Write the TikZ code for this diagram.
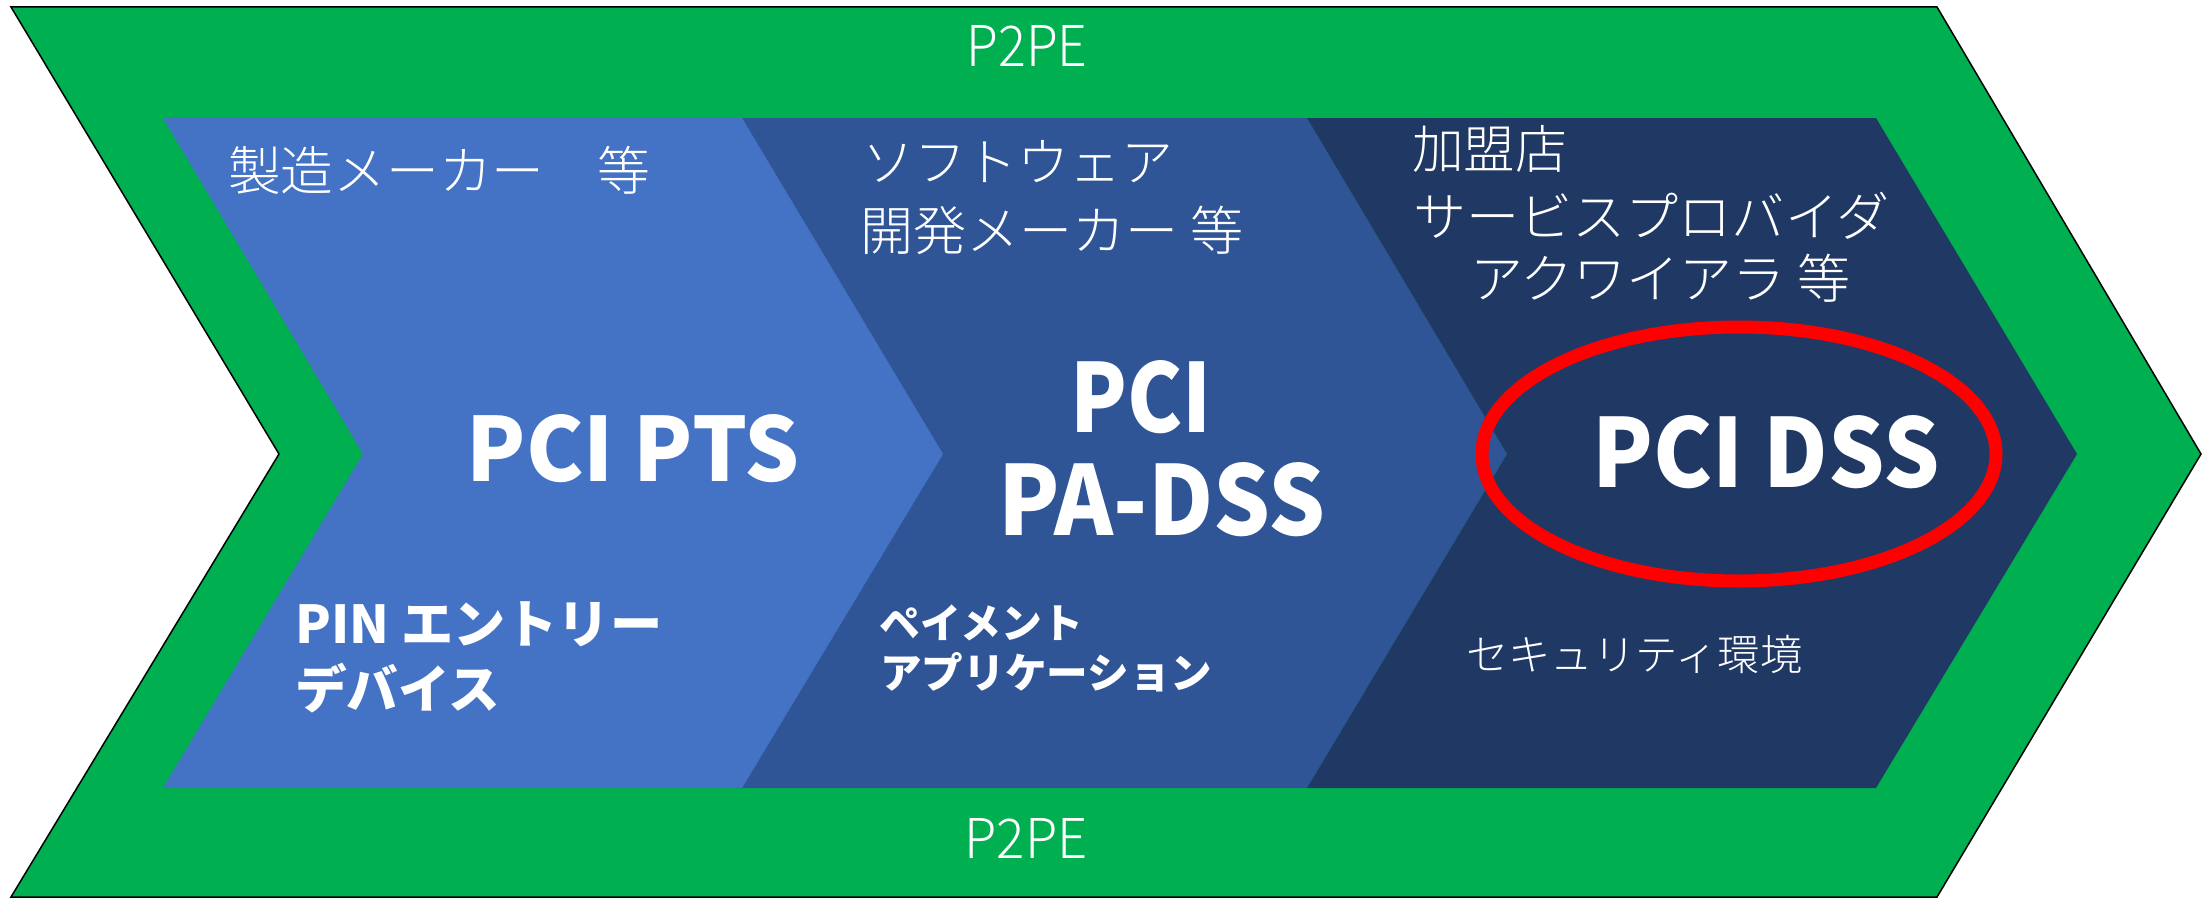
\documentclass[tikz,border=0pt]{standalone}
\usepackage{fontspec}
\setmainfont{Noto Sans CJK JP}
\IfFontExistsTF{Noto Sans CJK JP Light}
  {\newfontfamily\lightjp{Noto Sans CJK JP Light}}
  {\newfontfamily\lightjp{Noto Sans CJK JP}}
\usepackage{graphicx}
\definecolor{pgreen}{HTML}{00B050}
\definecolor{blueA}{HTML}{4472C4}
\definecolor{blueB}{HTML}{2F5597}
\definecolor{blueC}{HTML}{203864}
\definecolor{pred}{HTML}{FF0000}
\begin{document}
\begin{tikzpicture}[x=1pt,y=-1pt,
  txt/.style={text=white,inner sep=0pt,anchor=west},
  ctxt/.style={text=white,inner sep=0pt,anchor=center}]
\useasboundingbox (0,0) rectangle (2204,899);
% outer green chevron
\filldraw[fill=pgreen,draw=black,line width=1.5pt]
  (11,7) -- (1937,7) -- (2201,454) -- (1937,897) -- (11,897) -- (279,454) -- cycle;
% blue stages
\fill[blueB] (736,118) -- (1307,118) -- (1507,454) -- (1307,788) -- (736,788) -- (943,454) -- cycle;
\fill[blueC] (1307,118) -- (1876,118) -- (2077,454) -- (1876,788) -- (1307,788) -- (1507,454) -- cycle;
\fill[blueA] (163,118) -- (742,118) -- (943,454) -- (742,788) -- (163,788) -- (363,454) -- cycle;
% red ellipse
\draw[pred,line width=13pt] (1739,454) ellipse [x radius=257, y radius=127];
% texts
\node[ctxt] (p2pet) at (1027,45.5) {\resizebox{121pt}{41pt}{\lightjp P2PE}};
\node[ctxt] (p2peb) at (1026,838) {\resizebox{123pt}{40pt}{\lightjp P2PE}};
\node[txt] (maker) at (228,170) {\resizebox{422pt}{!}{\lightjp 製造メーカー　等}};
\node[txt] (soft1) at (862,162) {\resizebox{311pt}{!}{\lightjp ソフトウェア}};
\node[txt] (soft2) at (860,230) {\resizebox{383pt}{!}{\lightjp 開発メーカー 等}};
\node[txt] (mer1) at (1412,149) {\resizebox{155pt}{!}{\lightjp 加盟店}};
\node[txt] (mer2) at (1413,216) {\resizebox{476pt}{!}{\lightjp サービスプロバイダ}};
\node[txt] (mer3) at (1470,278) {\resizebox{380pt}{!}{\lightjp アクワイアラ 等}};
\node[ctxt] (pts) at (633.5,448.5) {\resizebox{333pt}{67pt}{\bfseries PCI PTS}};
\node[ctxt] (pa1) at (1141,397) {\resizebox{141pt}{72pt}{\bfseries PCI}};
\node[ctxt] (pa2) at (1162,500) {\resizebox{327pt}{73pt}{\bfseries PA-DSS}};
\node[ctxt] (dss) at (1766,452) {\resizebox{347pt}{72pt}{\bfseries PCI DSS}};
\node[txt] (pin1) at (295,624) {\resizebox{367pt}{!}{\bfseries PIN エントリー}};
\node[txt] (pin2) at (295,688) {\resizebox{205pt}{!}{\bfseries デバイス}};
\node[txt] (pay1) at (879,623) {\resizebox{204pt}{!}{\bfseries ペイメント}};
\node[txt] (pay2) at (880,672) {\resizebox{332pt}{!}{\bfseries アプリケーション}};
\node[txt] (sec) at (1466,654) {\resizebox{336pt}{!}{\lightjp セキュリティ環境}};
\end{tikzpicture}
\end{document}
